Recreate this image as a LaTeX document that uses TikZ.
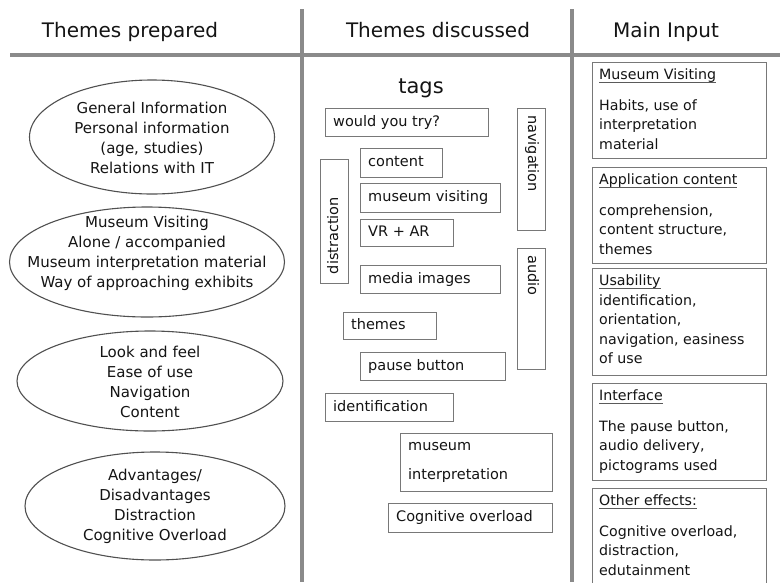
\documentclass[tikz,border=0pt]{standalone}
\usepackage{fontspec}
\setmainfont{DejaVu Sans}
\usetikzlibrary{shapes.geometric}
\definecolor{divgray}{RGB}{138,138,138}
\definecolor{boxgray}{RGB}{120,120,120}
\definecolor{ellgray}{RGB}{80,80,80}
\definecolor{ink}{RGB}{20,20,20}
\definecolor{ulgray}{RGB}{90,90,90}
\newcommand\myul[1]{\setbox0\hbox{#1}\rlap{\color{ulgray}\rule[-2.8pt]{\wd0}{1.1pt}}\box0}
\newcommand\tagbox[6]{%
  \node[tagrect, minimum width={(#4)-(#2)}, minimum height={(#5)-(#3)}, anchor=north west] (#1) at (#2,#3) {};
  \node[tagtext, anchor=west] (#1-t) at ([xshift=8pt]#1.west) {#6};}
\begin{document}
\begin{tikzpicture}[x=1pt,y=-1pt,
  divider/.style={line width=4pt, draw=divgray},
  head/.style={text=ink, font=\fontsize{20}{24}\selectfont, inner sep=0pt, anchor=base},
  ellbox/.style={ellipse, draw=ellgray, line width=1.1pt, inner sep=0pt},
  elltext/.style={text=ink, align=center, font=\fontsize{15}{20}\selectfont, inner sep=0pt},
  tagrect/.style={rectangle, draw=boxgray, line width=1.3pt, inner sep=0pt},
  tagtext/.style={text=ink, font=\fontsize{14.5}{17}\selectfont, inner sep=0pt, text height=10.5pt, text depth=3.5pt},
  inrect/.style={rectangle, draw=boxgray, line width=1.3pt, inner sep=0pt, minimum width=174pt, anchor=north west},
  intext/.style={text=ink, align=left, font=\fontsize{14.2}{19.5}\selectfont, inner sep=0pt, anchor=north west, xshift=7pt, yshift=-7pt}
]
\useasboundingbox (0,0) rectangle (780,582);
\clip (0,0) rectangle (780,582);
\fill[white] (0,0) rectangle (780,582);

% dividers
\coordinate (hl) at (10,55);
\coordinate (hr) at (780,55);
\coordinate (v1t) at (302,9);
\coordinate (v1b) at (302,582);
\coordinate (v2t) at (572,9);
\coordinate (v2b) at (572,582);
\draw[divider] (hl) -- (hr);
\draw[divider] (v1t) -- (v1b);
\draw[divider] (v2t) -- (v2b);

% headers
\node[head] (h1) at (130,37) {Themes prepared};
\node[head] (h2) at (438,37) {Themes discussed};
\node[head] (h3) at (666,37) {Main Input};

% ellipses
\node[ellbox, minimum width=245pt, minimum height=114pt] (e1) at (152,137) {};
\node[elltext] (e1t) at (152,138) {General Information\\Personal information\\(age, studies)\\Relations with IT};
\node[ellbox, minimum width=275pt, minimum height=110pt] (e2) at (147,262) {};
\node[elltext] (e2t) at (147,253) {Museum Visiting\\Alone / accompanied\\Museum interpretation material\\Way of approaching exhibits};
\node[ellbox, minimum width=266pt, minimum height=100pt] (e3) at (150,381) {};
\node[elltext] (e3t) at (150,382) {Look and feel\\Ease of use\\Navigation\\Content};
\node[ellbox, minimum width=260pt, minimum height=108pt] (e4) at (155,506) {};
\node[elltext] (e4t) at (155,506) {Advantages/\\Disadvantages\\Distraction\\Cognitive Overload};

% tags
\node[head, font=\fontsize{21}{24}\selectfont] (tags) at (421,93) {tags};
\tagbox{t1}{325}{108}{488}{136}{would you try?}
\tagbox{t2}{360}{148}{442}{177}{content}
\tagbox{t3}{360}{183}{500}{212}{museum visiting}
\tagbox{t4}{360}{219}{453}{246}{VR + AR}
\tagbox{t5}{360}{265}{500}{293}{media images}
\tagbox{t6}{343}{312}{436}{339}{themes}
\tagbox{t7}{360}{352}{505}{380}{pause button}
\tagbox{t8}{325}{393}{453}{421}{identification}
\node[tagrect, minimum width=152pt, minimum height=58pt, anchor=north west] (t9) at (400,433) {};
\node[text=ink, align=left, font=\fontsize{14.5}{29}\selectfont, inner sep=0pt, anchor=west] (t9-t) at ([xshift=8pt]t9.west) {museum\\interpretation};
\tagbox{t10}{388}{503}{552}{532}{Cognitive overload}

% vertical tags
\node[tagrect, minimum width=28pt, minimum height=124pt, anchor=north west] (v1) at (320,159) {};
\node[tagtext, rotate=90, anchor=west] (v1-t) at ([yshift=10pt]v1.south) {distraction};
\node[tagrect, minimum width=28pt, minimum height=122pt, anchor=north west] (v2) at (517,108) {};
\node[tagtext, rotate=-90, anchor=west] (v2-t) at ([yshift=-7pt]v2.north) {navigation};
\node[tagrect, minimum width=28pt, minimum height=121pt, anchor=north west] (v3) at (517,248) {};
\node[tagtext, rotate=-90, anchor=west] (v3-t) at ([yshift=-7pt]v3.north) {audio};

% main input boxes
\node[inrect, minimum height=96pt] (b1) at (592,62) {};
\node[intext] (b1-t) at (b1.north west) {\myul{Museum Visiting}\\[11pt]Habits, use of\\interpretation\\material};
\node[inrect, minimum height=96pt] (b2) at (592,167) {};
\node[intext] (b2-t) at (b2.north west) {\myul{Application content}\\[11pt]comprehension,\\content structure,\\themes};
\node[inrect, minimum height=107pt] (b3) at (592,268) {};
\node[intext] (b3-t) at (b3.north west) {\myul{Usability}\\identification,\\orientation,\\navigation, easiness\\of use};
\node[inrect, minimum height=97pt] (b4) at (592,383) {};
\node[intext] (b4-t) at (b4.north west) {\myul{Interface}\\[11pt]The pause button,\\audio delivery,\\pictograms used};
\node[inrect, minimum height=110pt] (b5) at (592,488) {};
\node[intext] (b5-t) at (b5.north west) {\myul{Other effects:}\\[11pt]Cognitive overload,\\distraction,\\edutainment};
\end{tikzpicture}
\end{document}
